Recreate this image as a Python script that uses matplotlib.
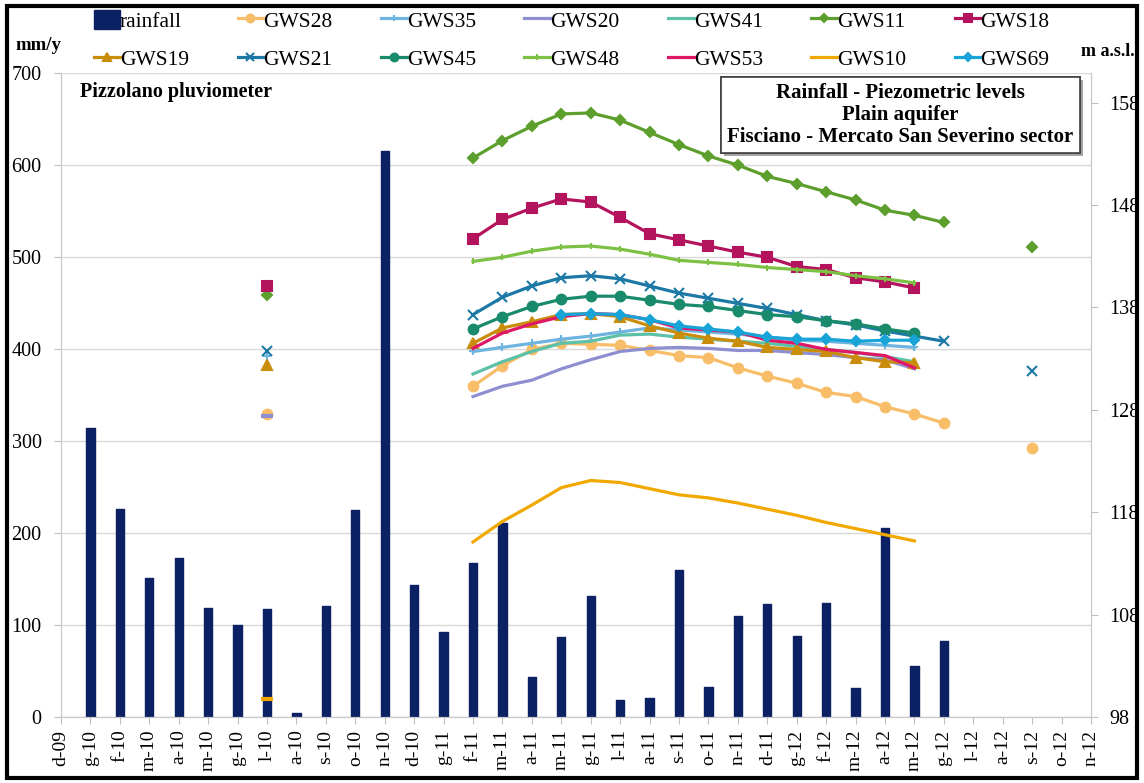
import numpy as np
import matplotlib
matplotlib.use('Agg')
import matplotlib.pyplot as plt
from matplotlib import patheffects
from matplotlib.patches import Rectangle

plt.rcParams['font.family'] = ['Liberation Serif', 'DejaVu Serif']

months = ['d-09', 'g-10', 'f-10', 'm-10', 'a-10', 'm-10', 'g-10', 'l-10', 'a-10', 's-10', 'o-10', 'n-10',
          'd-10', 'g-11', 'f-11', 'm-11', 'a-11', 'm-11', 'g-11', 'l-11', 'a-11', 's-11', 'o-11', 'n-11',
          'd-11', 'g-12', 'f-12', 'm-12', 'a-12', 'm-12', 'g-12', 'l-12', 'a-12', 's-12', 'o-12', 'n-12']

# mm per month, Pizzolano pluviometer
rainfall = [None, 314, 226, 151, 173, 119, 100, 117, 4, 121, 225, 615, 144,
            92, 167, 211, 44, 87, 131, 18, 21, 160, 33, 110, 123,
            88, 124, 31, 205, 55, 83, None, None, None, None, None]

# piezometric levels (m a.s.l.), monthly from f-11 (gws69 from m-11)
gws28 = [130.3, 132.3, 133.9, 134.5, 134.4, 134.3, 133.8, 133.3, 133.1, 132.1, 131.3, 130.6, 129.7, 129.3, 128.3, 127.6, 126.7]
gws35 = [133.7, 134.1, 134.5, 134.9, 135.2, 135.6, 136.0, 135.8, 135.6, 135.4, 135.1, 134.8, 134.7, 134.5, 134.3, 134.1]
gws20 = [129.3, 130.3, 130.9, 132.0, 132.9, 133.7, 134.0, 134.1, 134.0, 133.8, 133.8, 133.6, 133.4, 133.1, 132.9, 132.0]
gws41 = [131.5, 132.7, 133.7, 134.5, 134.7, 135.3, 135.4, 135.1, 134.9, 134.7, 134.5, 134.2, 133.9, 133.6, 133.2, 132.7]
gws11 = [152.6, 154.3, 155.7, 156.9, 157.0, 156.3, 155.1, 153.9, 152.8, 151.9, 150.8, 150.1, 149.3, 148.5, 147.5, 147.0, 146.3]
gws18 = [144.7, 146.6, 147.7, 148.6, 148.3, 146.8, 145.2, 144.6, 144.0, 143.4, 142.9, 142.0, 141.7, 140.9, 140.5, 139.9]
gws19 = [134.5, 136.0, 136.6, 137.3, 137.4, 137.1, 136.2, 135.5, 135.0, 134.7, 134.1, 133.9, 133.7, 133.1, 132.7, 132.6]
gws21 = [137.3, 139.0, 140.1, 140.9, 141.1, 140.8, 140.1, 139.4, 138.9, 138.4, 137.9, 137.3, 136.7, 136.3, 135.7, 135.2, 134.7]
gws45 = [135.9, 137.1, 138.1, 138.8, 139.1, 139.1, 138.7, 138.3, 138.1, 137.7, 137.3, 137.1, 136.7, 136.4, 135.9, 135.5]
gws48 = [142.5, 142.9, 143.5, 143.9, 144.0, 143.7, 143.2, 142.6, 142.4, 142.2, 141.9, 141.7, 141.5, 141.1, 140.8, 140.4]
gws53 = [134.0, 135.5, 136.4, 137.1, 137.4, 137.3, 136.8, 136.0, 135.8, 135.6, 134.8, 134.5, 133.9, 133.6, 133.3, 132.1]
gws10 = [115.1, 117.1, 118.7, 120.4, 121.1, 120.9, 120.3, 119.7, 119.4, 118.9, 118.3, 117.7, 117.0, 116.4, 115.8, 115.2]
gws69 = [137.3, 137.4, 137.3, 136.8, 136.2, 135.9, 135.6, 135.1, 134.9, 134.9, 134.7, 134.8, 134.8]

# single readings in l-10 and s-12
l10 = {'GWS18': 140.1, 'GWS11': 139.2, 'GWS21': 133.7, 'GWS35': 133.3, 'GWS19': 132.4,
       'GWS28': 127.6, 'GWS20': 127.4, 'GWS10': 99.8}
s12 = {'GWS11': 143.9, 'GWS21': 131.8, 'GWS28': 124.3}

x = np.arange(len(months))
i_l10 = months.index('l-10')
i_s12 = 33
i_f11 = 14


def full(vals, start=i_f11):
    y = np.full(len(months), np.nan)
    y[start:start + len(vals)] = vals
    return y


def single(name, idx, d):
    y = np.full(len(months), np.nan)
    if name in d:
        y[idx] = d[name]
    return y


# name, data, start, color, marker, size
series = [
    ('GWS28', gws28, 14, '#f8bd68', 'o', 7),
    ('GWS35', gws35, 14, '#6db4e0', '+', 6),
    ('GWS20', gws20, 14, '#8e8fd0', None, 0),
    ('GWS41', gws41, 14, '#5dc1a9', None, 0),
    ('GWS11', gws11, 14, '#5c9f2c', 'D', 5.5),
    ('GWS18', gws18, 14, '#b3145d', 's', 7.5),
    ('GWS19', gws19, 14, '#c98d0b', '^', 7),
    ('GWS21', gws21, 14, '#1c79a6', 'x', 7),
    ('GWS45', gws45, 14, '#1a8a6d', 'o', 7),
    ('GWS48', gws48, 14, '#7cc143', '|', 5),
    ('GWS53', gws53, 14, '#df1767', None, 0),
    ('GWS10', gws10, 14, '#f1a800', None, 0),
    ('GWS69', gws69, 17, '#19a4d8', 'D', 5),
]

fig = plt.figure(figsize=(11.44, 7.83), dpi=100)
ax = fig.add_axes([61 / 1144, 1 - 717 / 783, 1030 / 1144, 644 / 783])
ax2 = ax.twinx()

rain = np.array([np.nan if r is None else r for r in rainfall], dtype=float)
bars = ax.bar(x, rain, width=0.28, color='#0c2163', ec='#0c2163', lw=1,
              joinstyle='round', label='rainfall', zorder=2)

handles = {'rainfall': bars}
for name, vals, start, col, mk, ms in series:
    h, = ax2.plot(x, full(vals, start), color=col, lw=2.3, marker=mk, ms=ms, mec=col, mfc=col,
                  mew=1.5, label=name, zorder=3)
    handles[name] = h
    for e in (single(name, i_l10, l10), single(name, i_s12, s12)):
        if np.all(np.isnan(e)):
            continue
        ax2.plot(x, e, ls='none', marker=mk if mk else '_', ms=ms if mk else 9,
                 color=col, mec=col, mew=1.5 if mk else 3, zorder=3)

ax.set_xlim(0, 35)
ax.set_ylim(0, 700)
ax.set_yticks(range(0, 701, 100))
ax2.set_ylim(98, 160.9)
ax2.set_yticks(range(98, 159, 10))
ax.set_xticks(x)
ax.set_xticklabels(months, rotation=90, fontsize=14)
ax.tick_params(axis='y', labelsize=14.5, length=5, color='#bfbfbf', pad=9)
ax.tick_params(axis='x', length=5, color='#bfbfbf', pad=4)
ax2.tick_params(axis='y', labelsize=14.5, length=5, color='#bfbfbf', pad=8)
ax.yaxis.grid(True, color='#d9d9d9', lw=1)
ax.set_axisbelow(True)
for a in (ax, ax2):
    a.spines['top'].set_visible(False)
    for s in ('left', 'right', 'bottom'):
        a.spines[s].set_color('#c8c8c8')

ax.text(0.018, 0.97, 'Pizzolano pluviometer', transform=ax.transAxes, fontsize=14.5,
        fontweight='bold', ha='left', va='center')

t = ax.text(0.815, 0.935, 'Rainfall - Piezometric levels\nPlain aquifer\nFisciano - Mercato San Severino sector',
            transform=ax.transAxes, fontsize=15, fontweight='bold', ha='center', va='center',
            linespacing=1.12, zorder=5,
            bbox=dict(boxstyle='square,pad=0.3', fc='white', ec='#404040', lw=1.2))
t.get_bbox_patch().set_path_effects([patheffects.withSimplePatchShadow(offset=(2, -2), alpha=0.5),
                                     patheffects.Normal()])

fig.text(38 / 1144, 1 - 45 / 783, 'mm/y', fontsize=13.5, fontweight='bold', ha='center', va='center')
fig.text(1108 / 1144, 1 - 52 / 783, 'm a.s.l.', fontsize=13, fontweight='bold', ha='center', va='center')

row1 = ['rainfall', 'GWS28', 'GWS35', 'GWS20', 'GWS41', 'GWS11', 'GWS18']
row2 = ['GWS19', 'GWS21', 'GWS45', 'GWS48', 'GWS53', 'GWS10', 'GWS69']
order = [n for pair in zip(row1, row2) for n in pair]
fig.legend([handles[n] for n in order], order, loc='center', bbox_to_anchor=(0.5, 0.949),
           ncol=7, frameon=False, fontsize=15.5, handlelength=1.2, handleheight=1.0,
           handletextpad=0.0, columnspacing=2.25, labelspacing=0.75, markerscale=0.8)

fig.patches.append(Rectangle((0.006, 0.007), 0.988, 0.985, transform=fig.transFigure,
                             fill=False, ec='black', lw=3))

fig.savefig('out.png', dpi=100)
